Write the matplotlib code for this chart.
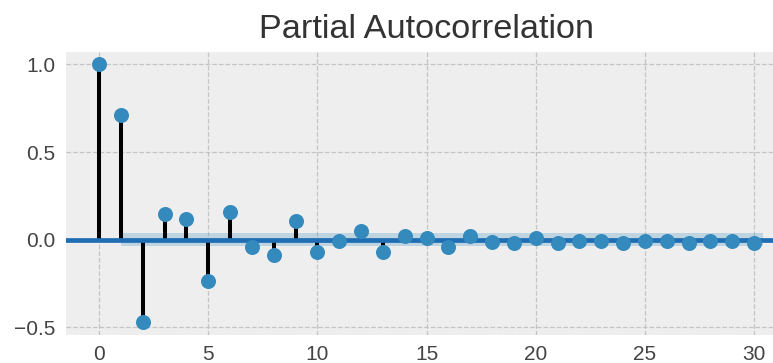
import numpy as np
import matplotlib
matplotlib.use("Agg")
import matplotlib.pyplot as plt

# Partial autocorrelation values by lag
lags = list(range(0, 31))
pacf_values = [1.0, 0.71, -0.47, 0.148, 0.12, -0.237, 0.16, -0.044, -0.085, 0.108,
               -0.072, -0.006, 0.05, -0.072, 0.023, 0.01, -0.044, 0.023, -0.015, -0.018,
               0.012, -0.02, -0.006, -0.005, -0.018, -0.005, -0.005, -0.018, -0.005, -0.005,
               -0.018]
conf_halfwidth = 0.038
xticks = [0, 5, 10, 15, 20, 25, 30]
yticks = [-0.5, 0.0, 0.5, 1.0]
title = "Partial Autocorrelation"

plt.rcParams['font.family'] = ['Liberation Sans', 'DejaVu Sans']

fig = plt.figure(figsize=(7.73, 3.63), dpi=100)
ax = fig.add_axes([0.0858, 0.0771, 0.932, 0.7796])
ax.set_facecolor('#eeeeee')
for s in ax.spines.values():
    s.set_visible(False)

ax.grid(True, color='#c4c4c4', linestyle='--', linewidth=0.9)
ax.set_axisbelow(True)

x = np.array(lags, dtype=float)
y = np.array(pacf_values)

# confidence band around zero
band_x = x[1:].copy()
band_x[-1] += 0.4
ax.fill_between(band_x, -conf_halfwidth, conf_halfwidth, color='#348ABD', alpha=0.25,
                linewidth=0, zorder=1)

ax.vlines(x, 0, y, colors='black', linewidth=2.9, zorder=2)
ax.axhline(0, color='#1f6db3', linewidth=3.4, zorder=3)
ax.plot(x, y, 'o', color='#348ABD', markersize=10.8, markeredgewidth=0, zorder=4)

ax.set_xlim(-1.5, 31.5)
ax.set_ylim(-0.543, 1.07)
ax.set_xticks(xticks)
ax.set_yticks(yticks)
ax.set_yticklabels([f"{v:.1f}".replace('-', '\u2212') for v in yticks])
ax.tick_params(axis='both', length=0, labelsize=15, colors='#444444')
ax.tick_params(axis='x', pad=7)
ax.tick_params(axis='y', pad=8)

ax.set_title(title, fontsize=24.7, color='#333333', pad=10)

fig.savefig('out.png', dpi=100)
